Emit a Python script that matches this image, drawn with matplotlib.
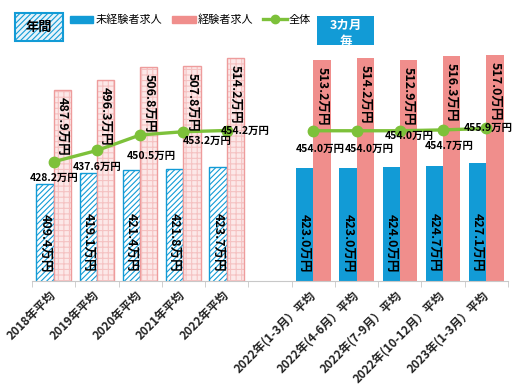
import matplotlib
matplotlib.use('Agg')
import matplotlib.pyplot as plt
import numpy as np
from matplotlib.patches import Rectangle, Patch
from matplotlib.lines import Line2D

# data (index 5 is the empty gap between annual / quarterly)
categories = ['2018年平均', '2019年平均', '2020年平均', '2021年平均', '2022年平均', '',
              '2022年(1-3月）平均', '2022年(4-6月）平均', '2022年(7-9月）平均',
              '2022年(10-12月）平均', '2023年(1-3月）平均']
inexperienced = [409.4, 419.1, 421.4, 421.8, 423.7, np.nan, 423.0, 423.0, 424.0, 424.7, 427.1]
experienced = [487.9, 496.3, 506.8, 507.8, 514.2, np.nan, 513.2, 514.2, 512.9, 516.3, 517.0]
overall = [428.2, 437.6, 450.5, 453.2, 454.2, np.nan, 454.0, 454.0, 454.0, 454.7, 455.9]
series_names = ['未経験者求人', '経験者求人', '全体']

# label offsets for the line values (pixels, right / down)
line_label_offsets = [(0, 16), (0, 16), (11, 21), (24, 9), (18, 0), None,
                      (7, 18), (13, 18), (9, 5), (6, 16), (2, -1)]

BLUE = '#129BD6'
PINK = '#F08E8C'
GREEN = '#7DC13A'

plt.rcParams['font.family'] = ['Noto Sans CJK JP', 'DejaVu Sans']
plt.rcParams['hatch.linewidth'] = 0.8

W, H = 520, 391
fig = plt.figure(figsize=(5.2, 3.91), dpi=100)

def fx(px):
    return px / W

def fy(py):
    return 1 - py / H

ymin, ymax = 329, 540
ax = fig.add_axes([fx(32), fy(281), fx(476), (ymax - ymin) * 1.202 / H])
ax.set_xlim(-0.5, 10.5)
ax.set_ylim(ymin, ymax)

x = np.arange(len(categories))
annual = x < 5
quarter = x > 5
blue = np.array(inexperienced)
pink = np.array(experienced)
bw = 0.4

# annual bars are patterned, quarterly bars solid
ax.bar(x[annual] - 0.2, blue[annual], bw, color='white', edgecolor=BLUE,
       hatch='//////', linewidth=1.0)
ax.bar(x[annual] + 0.2, pink[annual], bw, color='#FCE8E8', edgecolor='#F5C2C2',
       hatch='+++', linewidth=0)
ax.bar(x[annual] + 0.2, pink[annual], bw, fill=False, edgecolor='#EE9C9C', linewidth=1.0)
ax.bar(x[quarter] - 0.2, blue[quarter], bw, color=BLUE, linewidth=0)
ax.bar(x[quarter] + 0.2, pink[quarter], bw, color=PINK, linewidth=0)

ax.plot(x, overall, color=GREEN, lw=2.4, marker='o', ms=7.5, zorder=4)

lab_kw = dict(fontsize=9, fontweight='bold', rotation=-90, rotation_mode='anchor',
              va='center', textcoords='offset points', zorder=5)
for i in x:
    if np.isnan(blue[i]):
        continue
    ax.annotate(f'{blue[i]:.1f}万円', (i - 0.2, ymin), xytext=(0, 6.5), ha='right', **lab_kw)
    ax.annotate(f'{pink[i]:.1f}万円', (i + 0.2, pink[i]), xytext=(0, -5), ha='left', **lab_kw)
    dx, dy = line_label_offsets[i]
    ax.annotate(f'{overall[i]:.1f}万円', (i, overall[i]), xytext=(dx * 0.72, -dy * 0.72),
                textcoords='offset points', ha='center', va='center',
                fontsize=7.5, fontweight='bold', zorder=6)

for s in ['top', 'right', 'left']:
    ax.spines[s].set_visible(False)
ax.spines['bottom'].set_color('#C8C8C8')
ax.set_yticks([])
ax.set_xticks(x)
ax.set_xticklabels(categories, rotation=45, ha='right', va='center',
                   rotation_mode='anchor', fontsize=8.5, fontweight='bold', color='#222222')
ax.tick_params(axis='x', which='major', length=0, pad=9)
ax.set_xticks(np.arange(-0.5, 11, 1), minor=True)
ax.tick_params(axis='x', which='minor', length=4, color='#C8C8C8')

# legend
handles = [Patch(color=BLUE), Patch(color=PINK),
           Line2D([], [], color=GREEN, lw=2.4, marker='o', ms=6)]
fig.legend(handles, series_names, loc='center left', bbox_to_anchor=(fx(70), fy(20)),
           ncol=3, frameon=False, fontsize=8, handlelength=2.1, handletextpad=0.2,
           columnspacing=0.9, borderaxespad=0, borderpad=0)

# "年間" tag
tag = Rectangle((fx(15), fy(41)), fx(48), 28 / H, transform=fig.transFigure,
                facecolor='#E6F3FA', edgecolor=BLUE, hatch='//////', linewidth=1.5)
fig.add_artist(tag)
fig.text(fx(39), fy(27), '年間', ha='center', va='center', fontsize=9.5,
         fontweight='bold', color='black')

# "3カ月毎" tag, second line cut off by the box
box = Rectangle((fx(317), fy(45)), fx(57), 29 / H, transform=fig.transFigure,
                facecolor=BLUE, edgecolor='none')
fig.add_artist(box)
t = fig.text(fx(345.5), fy(19), '3カ月\n毎', ha='center', va='top', fontsize=9,
             fontweight='bold', color='white', linespacing=1.3)
t.set_clip_path(box)

fig.savefig('out.png', dpi=100)
